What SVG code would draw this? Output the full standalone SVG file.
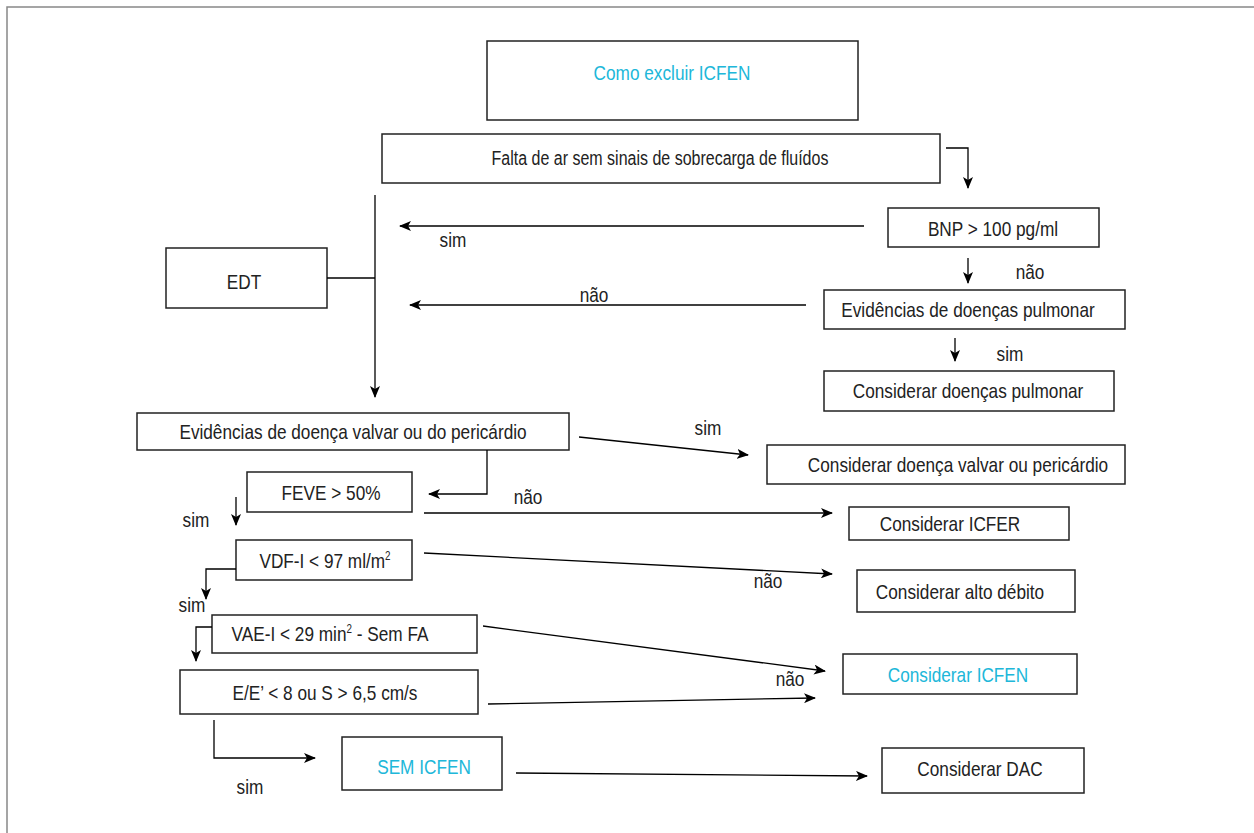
<svg xmlns="http://www.w3.org/2000/svg" width="1254" height="833" viewBox="0 0 1254 833">
<style>
.box{fill:#fff;stroke:#222;stroke-width:1.5}
.t{font-family:"Liberation Sans",Arial,sans-serif;font-size:21px;fill:#222;text-anchor:middle}
.c{fill:#20b7d9}
.ln{fill:none;stroke:#000;stroke-width:1.3}
.sup{font-size:12px}
</style>
<defs>
<marker id="ah" markerWidth="12" markerHeight="10" refX="11" refY="5" orient="auto" markerUnits="userSpaceOnUse">
<path d="M0,0 L12,5 L0,10 L3,5 z" fill="#000"/>
</marker>
</defs>
<rect width="1254" height="833" fill="#fff"/>
<path d="M7,833 L7,7 L1254,7" fill="none" stroke="#888" stroke-width="1.5"/>

<g id="n-como"><rect class="box" x="487" y="41" width="371" height="79"/><text class="t c" transform="translate(672,80) scale(.82,1)">Como excluir ICFEN</text></g>
<g id="n-falta"><rect class="box" x="382" y="134" width="558" height="49"/><text class="t" style="font-size:19.5px" transform="translate(660,165) scale(.82,1)">Falta de ar sem sinais de sobrecarga de fluídos</text></g>
<g id="n-bnp"><rect class="box" x="888" y="208" width="211" height="39"/><text class="t" transform="translate(993,236) scale(.82,1)">BNP &gt; 100 pg/ml</text></g>
<g id="n-edt"><rect class="box" x="166" y="248" width="161" height="60"/><text class="t" transform="translate(244,289) scale(.82,1)">EDT</text></g>
<g id="n-evpulm"><rect class="box" x="824" y="290" width="301" height="39"/><text class="t" transform="translate(968,317) scale(.82,1)">Evidências de doenças pulmonar</text></g>
<g id="n-conspulm"><rect class="box" x="824" y="371" width="290" height="40"/><text class="t" transform="translate(968,398) scale(.82,1)">Considerar doenças pulmonar</text></g>
<g id="n-evvalv"><rect class="box" x="137" y="413" width="432" height="37"/><text class="t" transform="translate(353,439) scale(.82,1)">Evidências de doença valvar ou do pericárdio</text></g>
<g id="n-consvalv"><rect class="box" x="767" y="445" width="358" height="39"/><text class="t" transform="translate(958,472) scale(.82,1)">Considerar doença valvar ou pericárdio</text></g>
<g id="n-feve"><rect class="box" x="247" y="472" width="165" height="40"/><text class="t" transform="translate(331,500) scale(.82,1)">FEVE &gt; 50%</text></g>
<g id="n-icfer"><rect class="box" x="849" y="507" width="220" height="33"/><text class="t" transform="translate(950,531) scale(.82,1)">Considerar ICFER</text></g>
<g id="n-vdf"><rect class="box" x="236" y="540" width="176" height="40"/><text class="t" transform="translate(325,568) scale(.82,1)">VDF-I &lt; 97 ml/m<tspan class="sup" dy="-8">2</tspan></text></g>
<g id="n-alto"><rect class="box" x="857" y="570" width="218" height="42"/><text class="t" transform="translate(960,599) scale(.82,1)">Considerar alto débito</text></g>
<g id="n-vae"><rect class="box" x="212" y="615" width="265" height="38"/><text class="t" transform="translate(330,641) scale(.82,1)">VAE-I &lt; 29 min<tspan class="sup" dy="-8">2</tspan><tspan dy="8"> - Sem FA</tspan></text></g>
<g id="n-considicfen"><rect class="box" x="843" y="654" width="234" height="40"/><text class="t c" transform="translate(958,682) scale(.82,1)">Considerar ICFEN</text></g>
<g id="n-ee"><rect class="box" x="180" y="670" width="298" height="44"/><text class="t" transform="translate(325,700) scale(.82,1)">E/E’ &lt; 8 ou S &gt; 6,5 cm/s</text></g>
<g id="n-sem"><rect class="box" x="342" y="737" width="160" height="53"/><text class="t c" transform="translate(424,774) scale(.82,1)">SEM ICFEN</text></g>
<g id="n-dac"><rect class="box" x="882" y="748" width="202" height="45"/><text class="t" transform="translate(980,776) scale(.82,1)">Considerar DAC</text></g>

<g id="connectors">
<path class="ln" d="M946,148 L968,148 L968,188" marker-end="url(#ah)"/>
<path class="ln" d="M864,226 L400,226" marker-end="url(#ah)"/>
<path class="ln" d="M375,195 L375,397" marker-end="url(#ah)"/>
<path class="ln" d="M327,278 L375,278"/>
<path class="ln" d="M968,258 L968,283" marker-end="url(#ah)"/>
<path class="ln" d="M806,305 L410,305" marker-end="url(#ah)"/>
<path class="ln" d="M955,338 L955,361" marker-end="url(#ah)"/>
<path class="ln" d="M579,437 L748,455" marker-end="url(#ah)"/>
<path class="ln" d="M487,450 L487,494 L429,494" marker-end="url(#ah)"/>
<path class="ln" d="M424,513 L832,513" marker-end="url(#ah)"/>
<path class="ln" d="M236,497 L236,525" marker-end="url(#ah)"/>
<path class="ln" d="M424,553 L832,574" marker-end="url(#ah)"/>
<path class="ln" d="M236,569 L206,569 L206,599" marker-end="url(#ah)"/>
<path class="ln" d="M212,627 L196,627 L196,661" marker-end="url(#ah)"/>
<path class="ln" d="M483,626 L825,671" marker-end="url(#ah)"/>
<path class="ln" d="M488,704 L815,698" marker-end="url(#ah)"/>
<path class="ln" d="M214,720 L214,758 L315,758" marker-end="url(#ah)"/>
<path class="ln" d="M516,773 L867,776" marker-end="url(#ah)"/>
<text class="t" transform="translate(453,247) scale(.82,1)">sim</text>
<text class="t" transform="translate(1030,279) scale(.82,1)">não</text>
<text class="t" transform="translate(594,302) scale(.82,1)">não</text>
<text class="t" transform="translate(1010,361) scale(.82,1)">sim</text>
<text class="t" transform="translate(708,435) scale(.82,1)">sim</text>
<text class="t" transform="translate(528,504) scale(.82,1)">não</text>
<text class="t" transform="translate(196,527) scale(.82,1)">sim</text>
<text class="t" transform="translate(768,588) scale(.82,1)">não</text>
<text class="t" transform="translate(192,612) scale(.82,1)">sim</text>
<text class="t" transform="translate(790,686) scale(.82,1)">não</text>
<text class="t" transform="translate(250,794) scale(.82,1)">sim</text>
</g>
</svg>
